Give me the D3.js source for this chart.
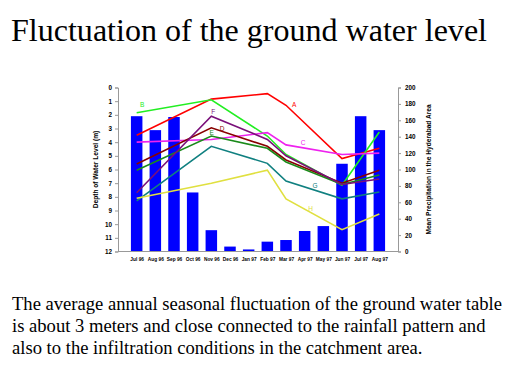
<!DOCTYPE html>
<html>
<head>
<meta charset="utf-8">
<script src="https://cdn.jsdelivr.net/npm/d3@7"></script>
<style>
  html, body { margin: 0; padding: 0; background: #fff; }
  svg { display: block; }
</style>
</head>
<body>
<svg id="chart" width="519" height="389"></svg>
<script>
// ---------- data ----------
const months = ["Jul 96","Aug 96","Sep 96","Oct 96","Nov 96","Dec 96","Jan 97",
                "Feb 97","Mar 97","Apr 97","May 97","Jun 97","Jul 97","Aug 97"];
const precipitation = [165, 148, 164, 72, 26, 6, 2.5, 12, 14, 25, 31, 107, 165, 148];

const lineMonths = ["Jul 96","Nov 96","Feb 97","Mar 97","Jun 97","Aug 97"];
const seriesA = [3.5, 0.85, 0.45, 1.3, 5.2, 4.45];
const seriesB = [1.85, 0.9, 3.55, 4.9, 7.15, 3.25];
const seriesC = [4.0, 3.8, 3.3, 4.2, 4.9, 4.8];
const seriesD = [5.6, 2.95, 4.3, 5.3, 7.0, 6.05];
const seriesE = [6.05, 3.55, 4.45, 5.45, 7.1, 6.4];
const seriesF = [7.7, 2.1, 3.8, 5.0, 7.1, 6.7];
const seriesG = [8.3, 4.3, 5.55, 6.85, 8.15, 7.65];
const seriesH = [8.1, 7.0, 6.05, 8.15, 10.4, 9.25];

const seriesNames = ["A","B","C","D","E","F","G","H"];
const seriesColors = ["#ff0000","#22ee22","#ee22ee","#880000","#1a8a1a","#7a107a","#108080","#e0e040"];
// label anchors: fractional month index, depth
const labelIdx = [8.44, 0.3, 8.92, 4.58, 4.02, 4.1, 9.55, 9.32];
const labelDepth = [1.21, 1.28, 4.05, 2.99, 3.29, 1.78, 7.2, 8.82];

const depthTicks = d3.range(0, 13, 1);
const precipTicks = d3.range(0, 201, 20);

const title = "Fluctuation of the ground water level";
const paragraph = [
  "The average annual seasonal fluctuation of the ground water table",
  "is about 3 meters and close connected to the rainfall pattern and",
  "also to the infiltration conditions in the catchment area."
];

// ---------- drawing ----------
const svg = d3.select("#chart");
const L = 118, R = 398, T = 87.5, B = 251.5;

const x = d3.scalePoint().domain(months).range([L, R]).padding(1);
const yL = d3.scaleLinear().domain([0, 12]).range([T, B]);
const yR = d3.scaleLinear().domain([0, 200]).range([B, T]);

svg.append("text")
  .attr("x", 11).attr("y", 41)
  .attr("font-family", "'Liberation Serif', 'Times New Roman', serif")
  .attr("font-size", 32)
  .attr("textLength", 476)
  .attr("lengthAdjust", "spacingAndGlyphs")
  .text(title);

// bars
const bw = 11.5;
svg.append("g").selectAll("rect")
  .data(precipitation)
  .join("rect")
  .attr("x", (d, i) => x(months[i]) - bw / 2)
  .attr("y", d => yR(d))
  .attr("width", bw)
  .attr("height", d => yR(0) - yR(d))
  .attr("fill", "#0000ff");

// lines
const allSeries = [seriesA, seriesB, seriesC, seriesD, seriesE, seriesF, seriesG, seriesH];
const line = d3.line()
  .x((d, i) => x(lineMonths[i]))
  .y(d => yL(d));
svg.append("g").selectAll("path")
  .data(allSeries)
  .join("path")
  .attr("d", d => line(d))
  .attr("fill", "none")
  .attr("stroke", (d, i) => seriesColors[i])
  .attr("stroke-width", 1.6)
  .attr("stroke-linejoin", "miter");

// series labels
svg.append("g").selectAll("text")
  .data(seriesNames)
  .join("text")
  .attr("x", (d, i) => x(months[0]) + labelIdx[i] * x.step())
  .attr("y", (d, i) => yL(labelDepth[i]))
  .attr("text-anchor", "middle")
  .attr("dominant-baseline", "central")
  .attr("font-family", "Arial, 'Liberation Sans', sans-serif")
  .attr("font-size", 6.5)
  .attr("fill", (d, i) => seriesColors[i])
  .text(d => d);

// axes
const axisFont = "Arial, 'Liberation Sans', sans-serif";
const gl = svg.append("g").attr("transform", `translate(${L},0)`)
  .call(d3.axisLeft(yL).tickValues(depthTicks).tickSize(3).tickPadding(3).tickFormat(d3.format("d")));
const gr = svg.append("g").attr("transform", `translate(${R},0)`)
  .call(d3.axisRight(yR).tickValues(precipTicks).tickSize(3).tickPadding(4).tickFormat(d3.format("d")));
const gb = svg.append("g").attr("transform", `translate(0,${B})`)
  .call(d3.axisBottom(x).tickSize(0).tickPadding(6));
[gl, gr, gb].forEach(g => {
  g.select(".domain").attr("stroke", "#999").attr("stroke-width", 1);
  g.selectAll(".tick line").attr("stroke", "#999");
  g.selectAll("text").attr("font-family", axisFont).attr("font-weight", "bold").attr("fill", "#000");
});
gl.selectAll("text").attr("font-size", 6.3);
gr.selectAll("text").attr("font-size", 6.3);
gb.selectAll("text").attr("font-size", 4.8);
gb.select(".domain").attr("d", `M${L},0H${R}`);

svg.append("text")
  .attr("transform", `translate(95,${(T + B) / 2}) rotate(-90)`)
  .attr("text-anchor", "middle")
  .attr("dominant-baseline", "central")
  .attr("font-family", axisFont).attr("font-weight", "bold").attr("font-size", 6.6)
  .text("Depth of Water Level (m)");
svg.append("text")
  .attr("transform", `translate(428,${(T + B) / 2}) rotate(-90)`)
  .attr("text-anchor", "middle")
  .attr("dominant-baseline", "central")
  .attr("font-family", axisFont).attr("font-weight", "bold").attr("font-size", 6.6)
  .text("Mean Precipitation in the Hyderabad Area");

// paragraph
svg.append("g").selectAll("text")
  .data(paragraph)
  .join("text")
  .attr("x", 12)
  .attr("y", (d, i) => 310 + i * 22)
  .attr("font-family", "'Liberation Serif', 'Times New Roman', serif")
  .attr("font-size", 18.6)
  .text(d => d);
</script>
</body>
</html>
